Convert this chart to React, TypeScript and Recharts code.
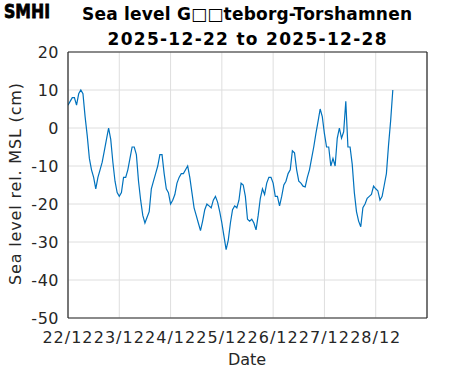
import { LineChart, Line, XAxis, YAxis, CartesianGrid } from 'recharts'

// hourly water level (cm) from 2025-12-22 00:00
const seaLevel = [
  6, 7, 8, 8, 6, 9, 10, 9, 3, -2, -8, -11, -13, -16, -13, -11, -9, -6, -3, 0, -3, -9, -14, -17,
  -18, -17, -13, -13, -11, -8, -5, -5, -7, -14, -19, -23, -25, -23.5, -22, -16, -14, -12, -10, -7, -7, -12, -16, -17,
  -20, -19, -17.5, -14.5, -13, -12, -12, -11, -10, -13, -17, -21, -23, -25, -27, -24.5, -21.5, -20, -20.5, -21, -19, -18, -19.5, -22,
  -25, -28.5, -32, -29.5, -25, -21.5, -20.5, -21, -19, -14.5, -15, -18, -24, -24.5, -24, -25, -26.8, -23, -18.5, -16, -17.5, -14.5, -13, -13,
  -14.5, -18, -18, -20.5, -18, -15, -14, -12, -11, -6, -6.5, -11, -14, -14.5, -15.3, -15.5, -13, -11, -8, -5, -1.5, 1.7, 5, 3,
  -1.5, -5, -5, -10, -8, -10, -2.7, 0, -2.7, -1, 7, -5, -5, -9.5, -17, -22, -24.5, -26, -21, -20, -18.5, -18, -17.5, -15.3,
  -16, -16.5, -19, -18, -15, -12, -4.5, 2, 10,
]

const dayTicks = [0, 24, 48, 72, 96, 120, 144, 168]
const dayLabels = ['22/12', '23/12', '24/12', '25/12', '26/12', '27/12', '28/12', '']
const levelTicks = [-50, -40, -30, -20, -10, 0, 10, 20]

const data = seaLevel.map((v, i) => ({ hour: i, level: v }))

const ink = '#262626'
const font = 'DejaVu Sans'

export default function App() {
  return (
    <div style={{ position: 'relative', width: 471, height: 371, background: '#fff', fontFamily: font }}>
      <style>{`body { margin: 0; }`}</style>
      <LineChart
        width={471}
        height={371}
        data={data}
        margin={{ top: 52, right: 44, bottom: 23, left: 8 }}
      >
        <CartesianGrid xAxisId="b" yAxisId="l" stroke="#dedede" strokeWidth={1} />
        <XAxis
          xAxisId="b"
          dataKey="hour"
          type="number"
          domain={[0, 168]}
          ticks={dayTicks}
          allowDataOverflow
          height={30}
          tickLine={false}
          tickSize={6}
          tickMargin={8}
          axisLine={{ stroke: ink, strokeWidth: 1.2 }}
          tickFormatter={(v: number) => dayLabels[dayTicks.indexOf(v)] ?? ''}
          tick={{ fill: ink, fontSize: 16, fontFamily: font, letterSpacing: 1 }}
        />
        <XAxis
          xAxisId="bm"
          type="number"
          domain={[0, 168]}
          ticks={dayTicks}
          allowDataOverflow
          mirror
          tick={false}
          tickSize={4}
          axisLine={false}
          tickLine={{ stroke: ink }}
        />
        <XAxis
          xAxisId="t"
          orientation="top"
          type="number"
          domain={[0, 168]}
          ticks={dayTicks}
          allowDataOverflow
          mirror
          tick={false}
          tickSize={4}
          axisLine={{ stroke: ink, strokeWidth: 1.2 }}
          tickLine={{ stroke: ink }}
        />
        <YAxis
          yAxisId="l"
          type="number"
          domain={[-50, 20]}
          ticks={levelTicks}
          allowDataOverflow
          width={60}
          tickLine={false}
          tickSize={6}
          tickMargin={3}
          axisLine={{ stroke: ink, strokeWidth: 1.2 }}
          tick={{ fill: ink, fontSize: 16, fontFamily: font, letterSpacing: 0.5 }}
        />
        <YAxis
          yAxisId="lm"
          type="number"
          domain={[-50, 20]}
          ticks={levelTicks}
          allowDataOverflow
          mirror
          tick={false}
          tickSize={4}
          axisLine={false}
          tickLine={{ stroke: ink }}
        />
        <YAxis
          yAxisId="r"
          orientation="right"
          type="number"
          domain={[-50, 20]}
          ticks={levelTicks}
          allowDataOverflow
          mirror
          tick={false}
          tickSize={4}
          axisLine={{ stroke: ink, strokeWidth: 1.2 }}
          tickLine={{ stroke: ink }}
        />
        <Line
          xAxisId="b"
          yAxisId="l"
          type="linear"
          dataKey="level"
          stroke="#0072BD"
          strokeWidth={1.2}
          dot={false}
          isAnimationActive={false}
        />
      </LineChart>

      {/* titles and axis names */}
      <svg
        width={471}
        height={371}
        style={{ position: 'absolute', left: 0, top: 0, pointerEvents: 'none' }}
      >
        <text
          x={4}
          y={18}
          fontFamily={font}
          fontWeight={900}
          fontSize={19}
          fill="#000"
          stroke="#000"
          strokeWidth={0.8}
          textLength={46}
          lengthAdjust="spacingAndGlyphs"
        >
          SMHI
        </text>
        <text x={247} y={20} textAnchor="middle" fontFamily={font} fontWeight="bold" fontSize={17} fill="#000" textLength={330} lengthAdjust="spacing">
          Sea level G□□teborg-Torshamnen
        </text>
        <text x={247} y={45} textAnchor="middle" fontFamily={font} fontWeight="bold" fontSize={17} fill="#000" textLength={279} lengthAdjust="spacing">
          2025-12-22 to 2025-12-28
        </text>
        <text x={247} y={365} textAnchor="middle" fontFamily={font} fontSize={16} fill={ink}>
          Date
        </text>
        <text
          transform="translate(21,184) rotate(-90)"
          textAnchor="middle"
          fontFamily={font}
          fontSize={16}
          fill={ink}
          textLength={202}
          lengthAdjust="spacing"
        >
          Sea level rel. MSL (cm)
        </text>
      </svg>
    </div>
  )
}
